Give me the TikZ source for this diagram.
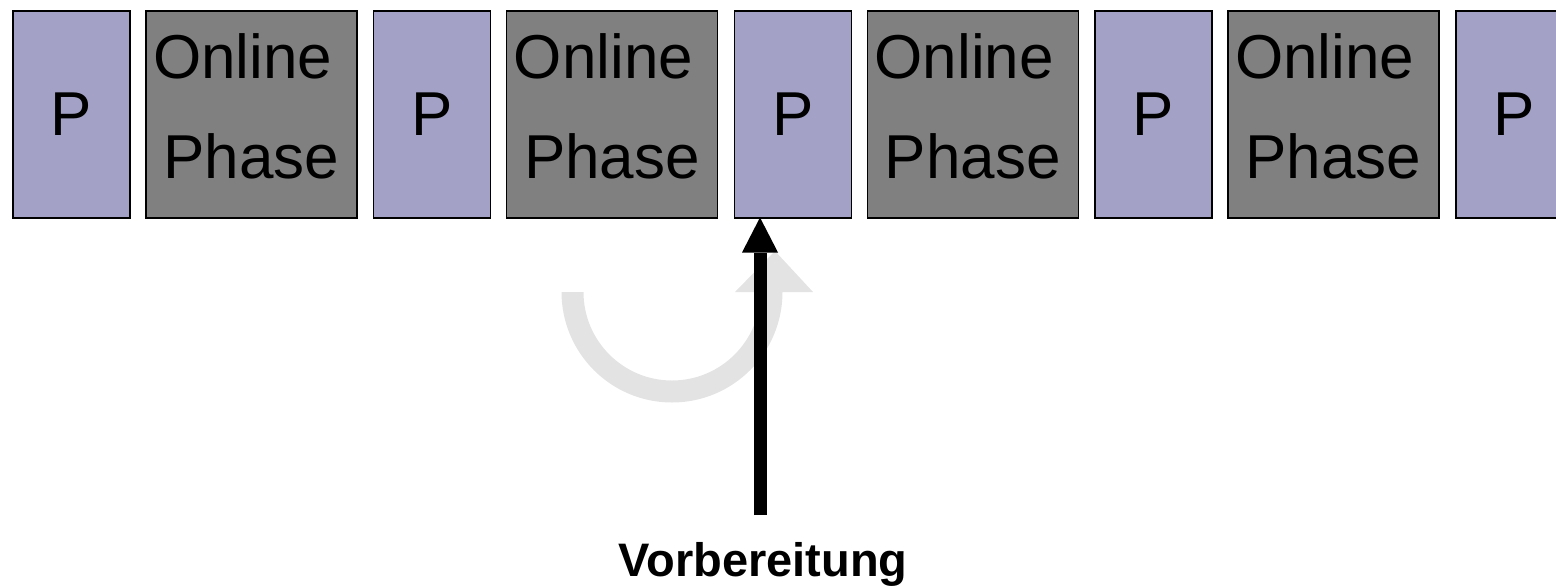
\documentclass[tikz,border=0pt]{standalone}
\usepackage{fontspec}
\setmainfont{Liberation Sans}
\usetikzlibrary{arrows.meta,calc}
\definecolor{phaseP}{RGB}{163,162,198}
\definecolor{online}{RGB}{128,128,128}
\definecolor{loopgray}{RGB}{227,227,227}
\tikzset{
  box/.style={draw=black, line width=1.5pt, minimum height=207pt, inner sep=0pt, anchor=north west},
  pbox/.style={box, fill=phaseP, minimum width=117pt},
  obox/.style={box, fill=online, minimum width=211pt},
  big/.style={font=\fontsize{62}{100}\selectfont, inner sep=0pt},
  pointer/.style={line width=13pt, -{Triangle[width=36pt,length=35pt,line width=0pt]}},
}
\begin{document}
\begin{tikzpicture}[x=1pt,y=-1pt]
\useasboundingbox (0,0) rectangle (1556,587);
\clip (0,0) rectangle (1556,587);
% preparation slots
\foreach \k in {1,...,5} {
  \node[pbox] (p\k) at ({12+360.75*(\k-1)},10) {};
  \node[big] (pt\k) at (p\k.center) {P};
}
% online phases
\foreach \k in {1,...,4} {
  \node[obox] (o\k) at ({145+360.75*(\k-1)},10) {};
  \node[big, align=center] (ot\k) at ($(o\k.center)+(0,-8)$) {Online\kern0.278em\\Phase};
}
% recurring cycle, drawn behind the pointer
\fill[loopgray] (561.5,292) arc[start angle=180, end angle=0, radius=110.5]
  -- (813,292) -- (775,251) -- (735,292) -- (760.5,292)
  arc[start angle=0, end angle=180, radius=88.5] -- cycle;
% pointer to the third preparation slot
\coordinate (foot) at (760,515);
\coordinate (tip) at (760,217.5);
\draw[pointer] (foot) -- (tip);
\node[font=\fontsize{47}{56}\selectfont\bfseries, anchor=base, inner sep=0pt] (prep) at (763,576) {Vorbereitung};
\end{tikzpicture}
\end{document}
